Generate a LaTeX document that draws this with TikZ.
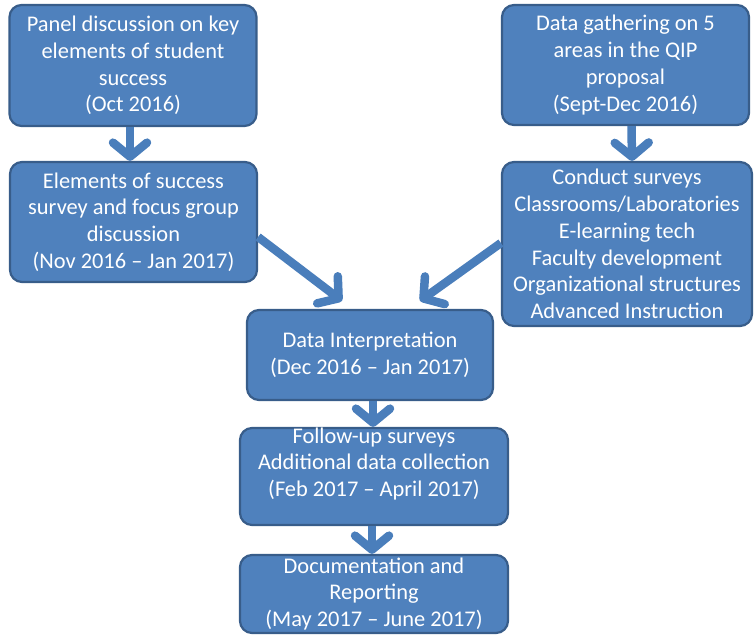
\documentclass[tikz,border=0pt]{standalone}
\usepackage{fontspec}
\setmainfont{Carlito}
\usetikzlibrary{arrows.meta}

\definecolor{boxfill}{HTML}{4F81BD}
\definecolor{boxline}{HTML}{385D8A}
\definecolor{flowarrow}{HTML}{4A7EBB}

\begin{document}
\begin{tikzpicture}[
  x=1pt,
  y=-1pt,
  phase box/.style={
    draw=boxline,
    fill=boxfill,
    line width=2.2pt,
    rounded corners=12pt,
    text=white,
    align=center,
    inner sep=1pt,
    font=\fontsize{22.4}{26.8}\selectfont
  },
  phase text/.style={
    text=white,
    align=center,
    inner sep=0pt,
    font=\fontsize{22.4}{26.8}\selectfont
  },
  flow/.style={
    draw=flowarrow,
    line width=8.5pt,
    -{Straight Barb[length=14pt,width=34pt,round]}
  },
]
\useasboundingbox (0,0) rectangle (754,636);

\node[phase box,minimum width=247pt,minimum height=121pt] (panel) at (133,65.5)
  {Panel discussion on key\\elements of student\\success\\(Oct 2016)};
\node[phase box,minimum width=247pt,minimum height=120pt] (elements) at (133.5,222)
  {Elements of success\\survey and focus group\\discussion\\(Nov 2016 -- Jan 2017)};
\node[phase box,minimum width=247pt,minimum height=120pt] (gather) at (625.5,65)
  {Data gathering on 5\\areas in the QIP\\proposal\\(Sept-Dec 2016)};
\node[phase box,minimum width=250pt,minimum height=164pt] (surveys) at (627,244)
  {Conduct surveys\\Classrooms/Laboratories\\E-learning tech\\Faculty development\\Organizational structures\\Advanced Instruction};
\node[phase box,minimum width=246pt,minimum height=90pt] (interp) at (370,355)
  {Data Interpretation\\(Dec 2016 -- Jan 2017)};
\node[phase box,minimum width=268pt,minimum height=97pt] (followup) at (374,476.5) {};
\node[phase text] (followuptext) at (374,464)
  {Follow-up surveys\\Additional data collection\\(Feb 2017 -- April 2017)};
\node[phase box,minimum width=268pt,minimum height=78pt,inner sep=0pt] (report) at (374,594)
  {Documentation and\\Reporting\\(May 2017 -- June 2017)};

\draw[flow] ([xshift=-3pt]panel.south) -- ([xshift=-3.5pt]elements.north);
\draw[flow] ([xshift=6pt]gather.south) -- ([xshift=5pt]surveys.north);
\draw[flow] ([yshift=-15pt]elements.east) -- ([xshift=-28pt,yshift=8pt]interp.north);
\draw[flow] ([yshift=1pt]surveys.west) -- ([xshift=50pt,yshift=8pt]interp.north);
\draw[flow] ([xshift=3pt]interp.south) -- ([xshift=-1pt]followup.north);
\draw[flow] ([xshift=-2pt]followup.south) -- ([xshift=-2pt]report.north);
\end{tikzpicture}
\end{document}
